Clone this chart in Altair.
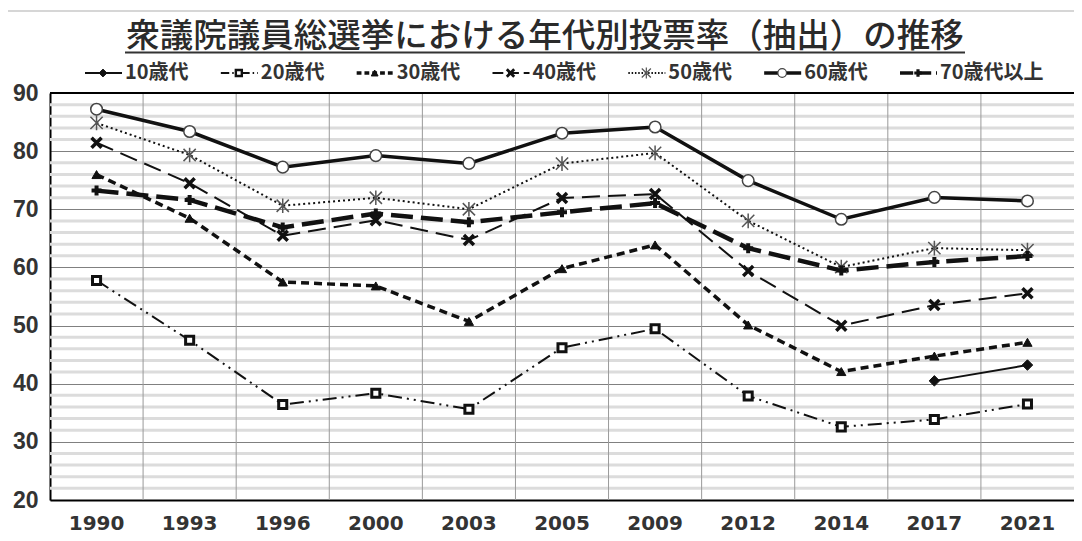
import altair as alt
import pandas as pd

title_text = "衆議院議員総選挙における年代別投票率（抽出）の推移"
years = ["1990", "1993", "1996", "2000", "2003", "2005", "2009", "2012", "2014", "2017", "2021"]
series = ["10歳代", "20歳代", "30歳代", "40歳代", "50歳代", "60歳代", "70歳代以上"]

v10 = [None, None, None, None, None, None, None, None, None, 40.49, 43.21]
v20 = [57.76, 47.46, 36.42, 38.35, 35.62, 46.20, 49.45, 37.89, 32.58, 33.85, 36.50]
v30 = [75.97, 68.46, 57.49, 56.82, 50.72, 59.79, 63.87, 50.10, 42.09, 44.75, 47.12]
v40 = [81.44, 74.48, 65.46, 68.13, 64.72, 71.94, 72.63, 59.38, 49.98, 53.52, 55.56]
v50 = [84.85, 79.34, 70.61, 71.98, 70.01, 77.86, 79.69, 68.02, 60.07, 63.32, 62.96]
v60 = [87.21, 83.38, 77.25, 79.23, 77.89, 83.08, 84.15, 74.93, 68.28, 72.04, 71.43]
v70 = [73.21, 71.61, 66.88, 69.28, 67.78, 69.48, 71.06, 63.30, 59.46, 60.94, 61.96]

major_ticks = [20, 30, 40, 50, 60, 70, 80, 90]
minor_ticks = [v for v in range(22, 90, 2) if v % 10 != 0]

rows = []
for s, vals in zip(series, [v10, v20, v30, v40, v50, v60, v70]):
    for yr, v in zip(years, vals):
        if v is not None:
            rows.append({"year": yr, "series": s, "rate": v})
df = pd.DataFrame(rows)

W, H = 1024, 407
INK = "#111111"

X_SHAPE = "M-1,-1L1,1M-1,1L1,-1"
PLUS_SHAPE = "M-1,0L1,0M0,-1L0,1"
AST_SHAPE = "M-1,-1L1,1M-1,1L1,-1M0,-1.2L0,1.2"

styles = {
    "10歳代": dict(dash=None, lw=2, shape="diamond", size=110, fill=INK, stroke=INK, sw=1),
    "20歳代": dict(dash=[14, 5, 2, 5, 2, 5], lw=2, shape="square", size=65, fill="white", stroke=INK, sw=3),
    "30歳代": dict(dash=[8, 5], lw=3.5, shape="triangle-up", size=85, fill=INK, stroke=INK, sw=1),
    "40歳代": dict(dash=[18, 8], lw=2, shape=X_SHAPE, size=100, fill=None, stroke=INK, sw=3.5),
    "50歳代": dict(dash=[2, 3], lw=2, shape=AST_SHAPE, size=150, fill=None, stroke="#555555", sw=1.5),
    "60歳代": dict(dash=None, lw=3.5, shape="circle", size=135, fill="white", stroke="#444444", sw=1.5),
    "70歳代以上": dict(dash=[22, 8], lw=4.5, shape=PLUS_SHAPE, size=100, fill=None, stroke=INK, sw=4),
}

x_scale = alt.Scale(type="band", domain=years, paddingInner=0, paddingOuter=0)
y_scale = alt.Scale(domain=[20, 90], nice=False, zero=False)
x_axis = alt.Axis(
    title=None, labelAngle=0, ticks=False, tickSize=0, grid=False,
    domainColor="#000000", domainWidth=2,
    labelFont="DejaVu Sans", labelFontWeight="bold", labelFontSize=20,
    labelColor="#333333", labelPadding=13,
)
y_axis = alt.Axis(
    title=None, values=major_ticks, ticks=False, tickSize=0,
    grid=True, gridColor="#808080", gridWidth=1,
    domainColor="#000000", domainWidth=2,
    labelFont="Liberation Sans", labelFontWeight="bold", labelFontSize=23,
    labelColor="#333333", labelPadding=12,
)

def Xc():
    return alt.X("year:N", sort=years, scale=x_scale, axis=x_axis, bandPosition=0.5)

def Yc():
    return alt.Y("rate:Q", scale=y_scale, axis=y_axis)

minor_df = pd.DataFrame({"rate": minor_ticks})
minor_layer = alt.Chart(minor_df).mark_rule(color="#dcdcdc", strokeWidth=3).encode(
    y=Yc()
)

vgrid_df = pd.DataFrame({"year": years[1:]})
vgrid_layer = alt.Chart(vgrid_df).mark_rule(color="#9a9a9a", strokeWidth=1).encode(
    x=alt.X("year:N", sort=years, scale=x_scale, axis=x_axis, bandPosition=0)
)

one = pd.DataFrame({"t": [title_text]})
top_border = alt.Chart(one).mark_rule(color="#000000", strokeWidth=2).encode(
    x=alt.value(0), x2=alt.value(W), y=alt.value(0)
)
frame_line = alt.Chart(one).mark_rule(color="#c8c8c8", strokeWidth=1.5).encode(
    x=alt.value(-42), x2=alt.value(W), y=alt.value(-82)
)

line_layers = []
point_layers = []
for s in series:
    st = styles[s]
    lkw = dict(color=INK, strokeWidth=st["lw"])
    if st["dash"]:
        lkw["strokeDash"] = st["dash"]
    line_layers.append(
        alt.Chart(df).transform_filter(alt.datum.series == s).mark_line(**lkw).encode(x=Xc(), y=Yc())
    )
    pkw = dict(shape=st["shape"], size=st["size"], stroke=st["stroke"], strokeWidth=st["sw"], opacity=1)
    if st["fill"]:
        pkw["fill"] = st["fill"]
        pkw["filled"] = True
    else:
        pkw["filled"] = False
    point_layers.append(
        alt.Chart(df).transform_filter(alt.datum.series == s).mark_point(**pkw).encode(x=Xc(), y=Yc())
    )

main = alt.layer(minor_layer, vgrid_layer, *line_layers, *point_layers, top_border)

# legend
leg_df = pd.DataFrame({"series": series})
LX = alt.X("series:N", sort=series,
           scale=alt.Scale(type="point", domain=series, range=[35, 850], padding=0), axis=None)
LY = alt.value(-20)
leg_layers = []
for s in series:
    st = styles[s]
    rkw = dict(color=INK, strokeWidth=min(st["lw"], 3.5), x2Offset=37)
    if st["dash"]:
        rkw["strokeDash"] = [max(d * 0.6, 1.5) for d in st["dash"]]
    base = alt.Chart(leg_df).transform_filter(alt.datum.series == s)
    leg_layers.append(base.mark_rule(**rkw).encode(x=LX, x2=alt.X2("series:N"), y=LY))
    pkw = dict(shape=st["shape"], size=st["size"] * 0.55, stroke=st["stroke"],
               strokeWidth=max(st["sw"] * 0.8, 1), opacity=1, xOffset=18)
    if st["fill"]:
        pkw["fill"] = st["fill"]
        pkw["filled"] = True
    else:
        pkw["filled"] = False
    leg_layers.append(base.mark_point(**pkw).encode(x=LX, y=LY))
leg_text = alt.Chart(leg_df).mark_text(
    align="left", baseline="middle", dx=40, fontSize=20,
    font="Noto Sans CJK JP", fontWeight="bold", color="#333333",
).encode(x=LX, y=LY, text="series:N")
legend = alt.layer(*leg_layers, leg_text)

title_layer = alt.Chart(one).mark_text(
    align="center", baseline="alphabetic", fontSize=33.5,
    font="Noto Sans CJK JP", fontWeight=500, color="#2a2a2a",
).encode(text="t:N", x=alt.value(495), y=alt.value(-46))
underline = alt.Chart(one).mark_rule(color="#333333", strokeWidth=2).encode(
    x=alt.value(75), x2=alt.value(915), y=alt.value(-40.5)
)
title_grp = alt.layer(frame_line, title_layer, underline)

chart = alt.layer(main, legend, title_grp).resolve_scale(x="independent").properties(
    width=W, height=H,
    padding={"left": 42, "top": 85, "right": 0, "bottom": 33},
    autosize=alt.AutoSizeParams(type="none"),
    background="white",
).configure_view(stroke="transparent")

chart.save("out.html", embed_options={"renderer": "svg", "actions": False})
